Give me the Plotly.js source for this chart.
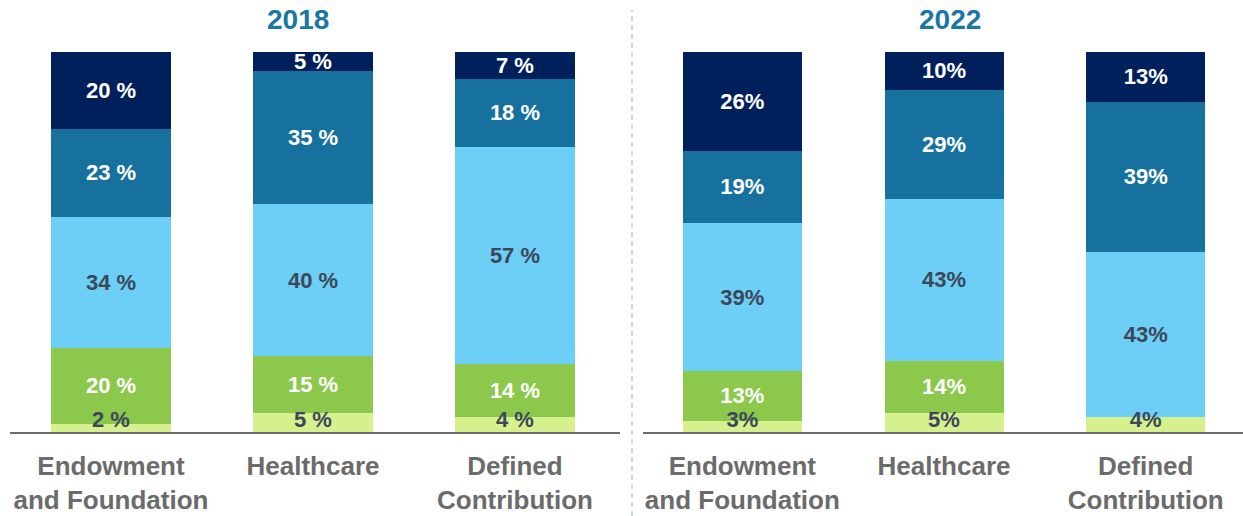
<!DOCTYPE html>
<html>
<head>
<meta charset="utf-8">
<script src="https://cdn.plot.ly/plotly-3.0.1.min.js"></script>
<style>
  html, body { margin: 0; padding: 0; background: #ffffff; }
  #chart { width: 1243px; height: 516px; }
</style>
</head>
<body>
<div id="chart"></div>
<script>
// ---- Data ----
const categories = ["Endowment<br>and Foundation", "Healthcare", "Defined<br>Contribution"];
const panelTitles = ["2018", "2022"];
const segmentNames = ["Segment 1", "Segment 2", "Segment 3", "Segment 4", "Segment 5"]; // bottom to top

// 2018 values (bottom to top segments)
const seg1_2018 = [2, 5, 4];
const seg2_2018 = [20, 15, 14];
const seg3_2018 = [34, 40, 57];
const seg4_2018 = [23, 35, 18];
const seg5_2018 = [20, 5, 7];

// 2022 values (bottom to top segments)
const seg1_2022 = [3, 5, 4];
const seg2_2022 = [13, 14, 0];
const seg3_2022 = [39, 43, 43];
const seg4_2022 = [19, 29, 39];
const seg5_2022 = [26, 10, 13];

// ---- Styles ----
const segColors = ["#d7f08e", "#8cc84b", "#6dcff6", "#17719e", "#00205c"];
const segTextColors = ["#3c475a", "#ffffff", "#3c475a", "#ffffff", "#ffffff"];
const FONT = "Liberation Sans, Arial, sans-serif";

const data2018 = [seg1_2018, seg2_2018, seg3_2018, seg4_2018, seg5_2018];
const data2022 = [seg1_2022, seg2_2022, seg3_2022, seg4_2022, seg5_2022];

function makeTraces(sets, xa, ya, fmt) {
  const bars = sets.map((vals, i) => ({
    type: "bar",
    name: segmentNames[i],
    x: categories,
    y: vals,
    xaxis: xa,
    yaxis: ya,
    width: 0.59,
    marker: { color: segColors[i], line: { width: 0 } },
    // bottom segment labels are drawn by a text layer above the bars
    text: i === 0 ? vals.map(() => "") : vals.map(v => v > 0 ? fmt(v) : ""),
    textposition: "inside",
    insidetextanchor: "middle",
    textangle: 0,
    constraintext: "none",
    cliponaxis: false,
    textfont: { family: FONT, size: 22, color: segTextColors[i], weight: "bold" },
    hoverinfo: "skip"
  }));
  // label layer for the thin bottom segment, sitting on the baseline
  const bottomLabels = {
    type: "scatter",
    mode: "text",
    x: categories,
    y: sets[0].map(() => 0),
    xaxis: xa,
    yaxis: ya,
    text: sets[0].map(v => fmt(v)),
    textposition: "top center",
    cliponaxis: false,
    textfont: { family: FONT, size: 22, color: segTextColors[0], weight: "bold" },
    hoverinfo: "skip",
    showlegend: false
  };
  return [...bars, bottomLabels];
}

const traces = [
  ...makeTraces(data2018, "x", "y", v => v + " %"),
  ...makeTraces(data2022, "x2", "y2", v => v + "%")
];

const W = 1243;
const xCommon = {
  type: "category",
  showgrid: false,
  zeroline: false,
  showline: true,
  linecolor: "#6b6b6b",
  linewidth: 2,
  ticks: "",
  ticklabelstandoff: 10,
  tickfont: { family: FONT, size: 26, color: "#6b6b6b", weight: "bold" },
  fixedrange: true
};
const yCommon = {
  range: [0, 100.0001],
  visible: false,
  showgrid: false,
  zeroline: false,
  fixedrange: true
};

const layout = {
  width: 1243,
  height: 516,
  margin: { l: 0, r: 0, t: 52, b: 84 },
  paper_bgcolor: "#ffffff",
  plot_bgcolor: "#ffffff",
  barmode: "stack",
  barnorm: "percent",
  showlegend: false,
  hovermode: false,
  xaxis: Object.assign({}, xCommon, { domain: [10 / W, 620 / W], range: [-0.5, 2.52], anchor: "y" }),
  yaxis: Object.assign({}, yCommon, { anchor: "x" }),
  xaxis2: Object.assign({}, xCommon, { domain: [643 / W, 1], range: [-0.4925, 2.4825], anchor: "y2" }),
  yaxis2: Object.assign({}, yCommon, { anchor: "x2" }),
  annotations: [
    { text: panelTitles[0], xref: "paper", yref: "paper", x: 298 / W, y: (432 - 20) / 380,
      xanchor: "center", yanchor: "middle", showarrow: false,
      font: { family: FONT, size: 28, color: "#1a76a3", weight: "bold" } },
    { text: panelTitles[1], xref: "paper", yref: "paper", x: 950 / W, y: (432 - 20) / 380,
      xanchor: "center", yanchor: "middle", showarrow: false,
      font: { family: FONT, size: 28, color: "#1a76a3", weight: "bold" } }
  ],
  shapes: [
    { type: "line", xref: "paper", yref: "paper", x0: 632 / W, x1: 632 / W,
      y0: (432 - 516) / 380, y1: (432 - 10) / 380,
      line: { color: "#c9d8e6", width: 2, dash: "5px,4px" } }
  ]
};

Plotly.newPlot("chart", traces, layout, { displayModeBar: false, staticPlot: true });
</script>
</body>
</html>
